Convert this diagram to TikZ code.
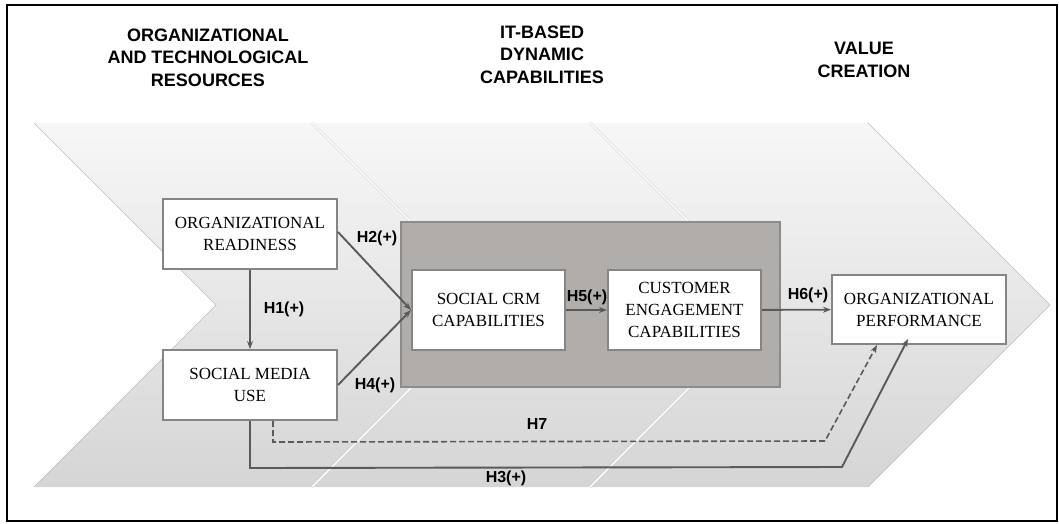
\documentclass[tikz,border=0pt]{standalone}
\usepackage{fontspec}
\setmainfont{Liberation Serif}
\newfontfamily\labelfont{Liberation Sans}
\usetikzlibrary{arrows.meta,calc}
\definecolor{linegray}{HTML}{5A5A5A}
\definecolor{boxedge}{HTML}{858585}
\definecolor{panelfill}{HTML}{B0ADAB}
\definecolor{paneledge}{HTML}{8E8C8B}
\definecolor{bandtop}{HTML}{F7F7F7}
\definecolor{bandbot}{HTML}{D5D5D5}
\definecolor{bandedge}{HTML}{BDBDBD}
\tikzset{
  construct/.style={draw=boxedge, line width=2pt, fill=white, minimum width=174pt,
    minimum height=70pt, inner sep=0pt, align=center, font=\fontsize{17}{22}\selectfont},
  capbox/.style={construct, minimum width=153pt, minimum height=80pt},
  heading/.style={align=center, inner sep=0pt, font=\labelfont\bfseries\fontsize{18}{22.5}\selectfont},
  hyp/.style={font=\labelfont\bfseries\fontsize{16}{19}\selectfont, inner sep=0pt},
  link/.style={draw=linegray, line width=1.9pt, -{Stealth[length=8pt,width=6pt]}},
  band/.style={top color=bandtop, bottom color=bandbot},
  seam/.style={draw=bandedge, line width=0.5pt},
}
\begin{document}
\begin{tikzpicture}[x=1pt,y=-1pt]
\useasboundingbox (0,0) rectangle (1059,523);

% outer frame
\draw[line width=2pt] (7,5) rectangle (1057,521);

% headings
\node[heading] (hres) at (208,57.5) {ORGANIZATIONAL\\AND TECHNOLOGICAL\\RESOURCES};
\node[heading] (hdyn) at (542,54.5) {IT-BASED\\DYNAMIC\\CAPABILITIES};
\node[heading] (hval) at (864,60) {VALUE\\CREATION};

% chevron band
\shade[band] (34,123) -- (312,123) -- (494,305) -- (312,487) -- (34,487) -- (216,305) -- cycle;
\shade[band] (312,123) -- (590,123) -- (772,305) -- (590,487) -- (312,487) -- (494,305) -- cycle;
\shade[band] (590,123) -- (868,123) -- (1050,305) -- (868,487) -- (590,487) -- (772,305) -- cycle;
\draw[seam] (34,123) -- (216,305) -- (34,487);
\draw[seam] (868,123) -- (1050,305) -- (868,487);
\foreach \xo in {312,590}
  \draw[draw=bandedge, line width=0.4pt, double=white, double distance=1.6pt]
    (\xo,123) -- (\xo+182,305) -- (\xo,487);

% capability panel
\node[draw=paneledge, fill=panelfill, line width=1.4pt, minimum width=379pt,
      minimum height=165pt, inner sep=0pt] (panel) at (590.5,304.5) {};

% constructs
\node[construct] (ready) at (250,234) {ORGANIZATIONAL\\READINESS};
\node[construct] (smu) at (250,385) {SOCIAL MEDIA\\USE};
\node[capbox] (scrm) at (488.5,310) {SOCIAL CRM\\CAPABILITIES};
\node[capbox] (cec) at (684.5,310) {CUSTOMER\\ENGAGEMENT\\CAPABILITIES};
\node[construct, minimum height=69pt] (perf) at (919,309.5) {ORGANIZATIONAL\\PERFORMANCE};

% hypotheses
\draw[link, line width=1.2pt] (ready) -- (smu);
\draw[link] ([yshift=2pt]ready.east) -- (scrm.west);
\draw[link] (smu.east) -- (scrm.west);
\draw[link] (scrm) -- (cec);
\draw[link] (cec) -- (perf);
\coordinate (h7a) at ([xshift=23pt]smu.south);
\coordinate (h7b) at ($(h7a)+(0,21)$);
\coordinate (h7c) at (825,441);
\draw[link, line width=1.6pt, dash pattern=on 6pt off 3pt] (h7a) -- (h7b) -- (h7c) -- ([xshift=-42pt]perf.south);
\coordinate (h3b) at ($(smu.south)+(0,47)$);
\coordinate (h3c) at (842,467);
\coordinate (h3d) at ([xshift=-11pt,yshift=6pt]perf.south);
\draw[link] (smu.south) -- (h3b) -- (h3c) -- (h3d);

% hypothesis labels
\node[hyp] (l1) at (284,309) {H1(+)};
\node[hyp] (l2) at (377,238) {H2(+)};
\node[hyp] (l4) at (375,385) {H4(+)};
\node[hyp] (l5) at (587,297) {H5(+)};
\node[hyp] (l6) at (808,295) {H6(+)};
\node[hyp] (l7) at (537,424) {H7};
\node[hyp] (l3) at (506,478) {H3(+)};
\end{tikzpicture}
\end{document}
